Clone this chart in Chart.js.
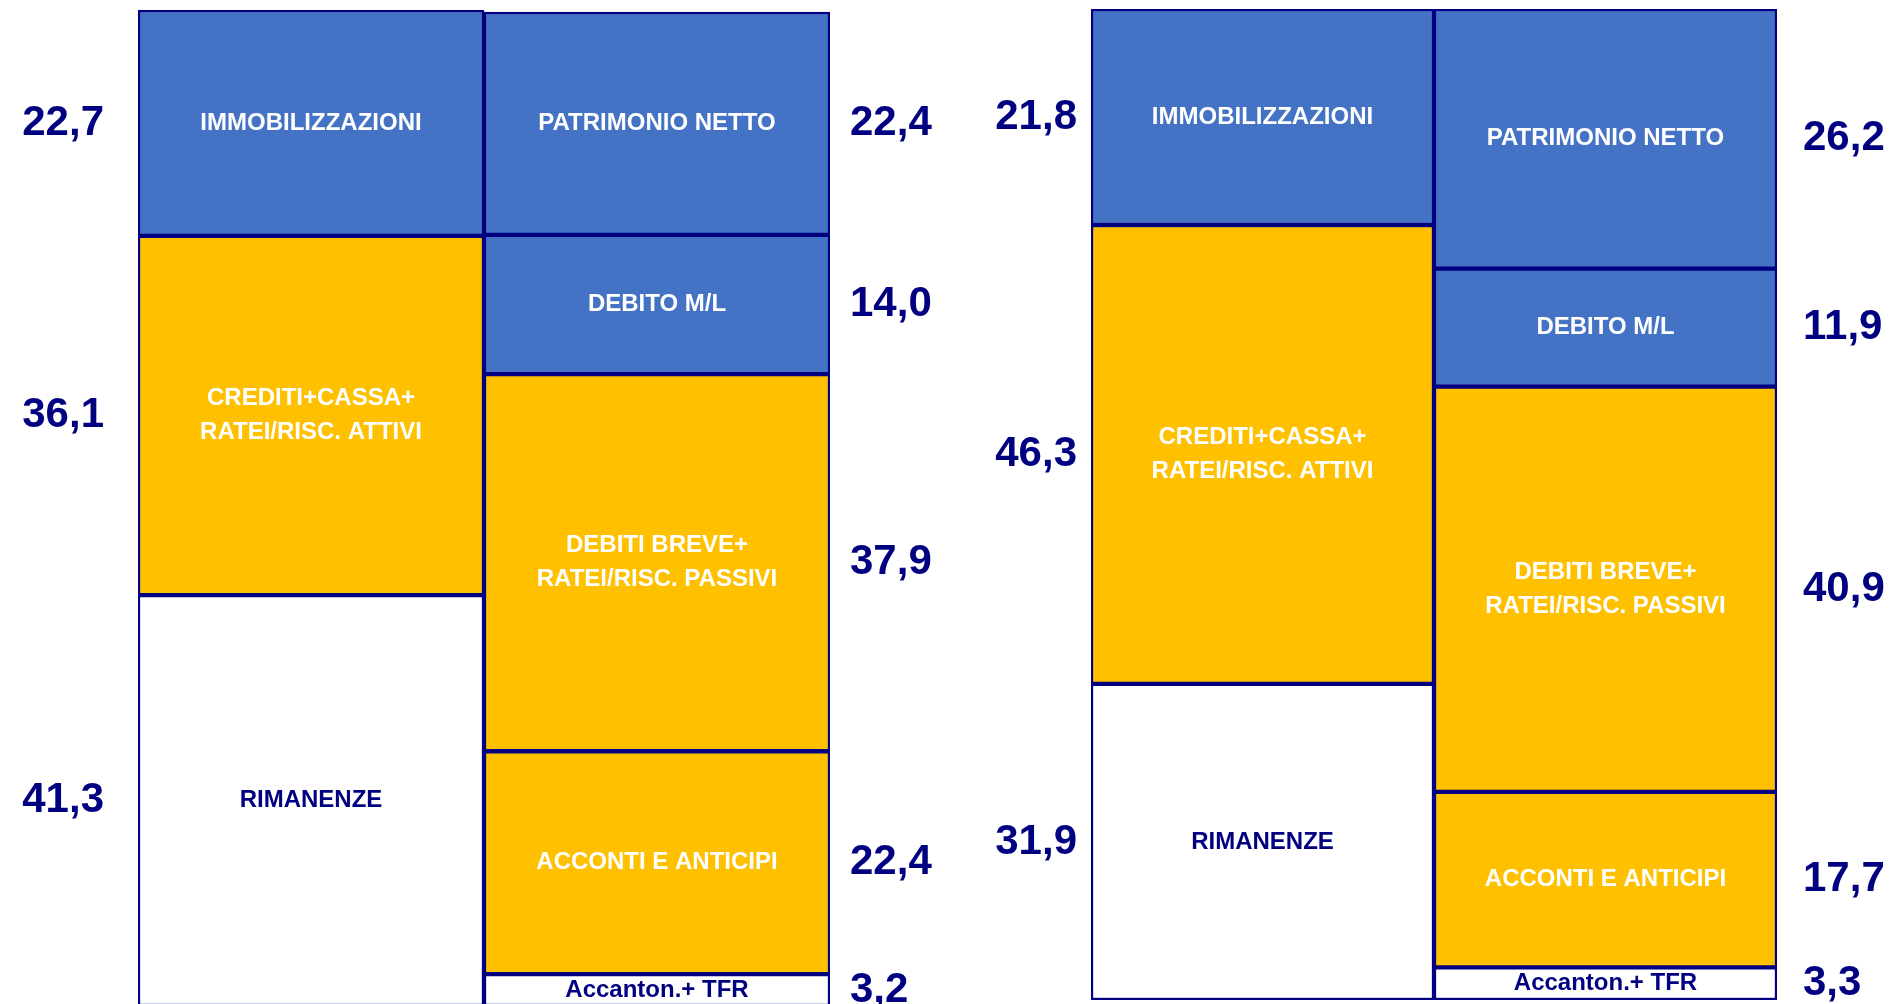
<!DOCTYPE html>
<html lang="it">
<head>
<meta charset="utf-8">
<title>Stato patrimoniale riclassificato</title>
<script src="https://cdn.jsdelivr.net/npm/chart.js@4.4.1/dist/chart.umd.min.js"></script>
<style>
  html, body { margin: 0; padding: 0; background: #fff; overflow: hidden; }
  body { width: 1894px; height: 1004px; position: relative; }
  canvas { position: absolute; top: 0; }
  #sp1 { left: 0; }
  #sp2 { left: 944px; }
</style>
</head>
<body>
<canvas id="sp1" width="944" height="1010"></canvas>
<canvas id="sp2" width="950" height="1004"></canvas>
<script>
    // =========================
    // Dati (valori % dall'alto verso il basso)
    // =========================

    const attivoVoci = ['IMMOBILIZZAZIONI', ['CREDITI+CASSA+', 'RATEI/RISC. ATTIVI'], 'RIMANENZE'];
    const passivoVoci = ['PATRIMONIO NETTO', 'DEBITO M/L', ['DEBITI BREVE+', 'RATEI/RISC. PASSIVI'], 'ACCONTI E ANTICIPI', 'Accanton.+ TFR'];

    const attivo1 = [22.7, 36.1, 41.3];
    const passivo1 = [22.4, 14.0, 37.9, 22.4, 3.2];

    const attivo2 = [21.8, 46.3, 31.9];
    const passivo2 = [26.2, 11.9, 40.9, 17.7, 3.3];

    const BLU = '#4472C4';
    const GIALLO = '#FFC000';
    const BIANCO = '#FFFFFF';
    const NAVY = '#000080';
    const FONT = "'Liberation Sans', Arial, sans-serif";

    const coloriAttivo = [BLU, GIALLO, BIANCO];
    const coloriPassivo = [BLU, BLU, GIALLO, GIALLO, BIANCO];

    const somma = arr => arr.reduce((a, b) => a + b, 0);

    // le barre impilate partono dal basso: si costruiscono in ordine inverso
    function creaDatasets(attivo, passivo) {
      const ds = [];
      for (let i = attivo.length - 1; i >= 0; i--) {
        ds.push({ voce: attivoVoci[i], data: [attivo[i], null], backgroundColor: coloriAttivo[i] });
      }
      for (let i = passivo.length - 1; i >= 0; i--) {
        ds.push({ voce: passivoVoci[i], data: [null, passivo[i]], backgroundColor: coloriPassivo[i] });
      }
      ds.forEach(d => {
        d.borderColor = NAVY;
        d.borderWidth = 2.5;
        d.borderSkipped = false;
        d.categoryPercentage = 1;
        d.barPercentage = 1;
      });
      return ds;
    }

    // testi dentro i rettangoli e valori ai lati
    const etichette = {
      id: 'etichette',
      afterDatasetsDraw(chart, args, opts) {
        const ctx = chart.ctx;
        chart.data.datasets.forEach((ds, i) => {
          const meta = chart.getDatasetMeta(i);
          meta.data.forEach((bar, j) => {
            const v = ds.data[j];
            if (v == null) return;
            const { x, y, base, width } = bar.getProps(['x', 'y', 'base', 'width'], true);
            const cy = (y + base) / 2;

            ctx.save();
            ctx.textBaseline = 'middle';
            ctx.textAlign = 'center';
            ctx.font = 'bold 24px ' + FONT;
            ctx.fillStyle = ds.backgroundColor === BIANCO ? NAVY : BIANCO;
            const righe = [].concat(ds.voce);
            righe.forEach((r, k) => {
              ctx.fillText(r, x, cy + (k - (righe.length - 1) / 2) * 34);
            });

            ctx.font = 'bold 42px ' + FONT;
            ctx.fillStyle = NAVY;
            const testo = v.toFixed(1).replace('.', ',');
            if (j === 0) {
              ctx.textAlign = 'right';
              ctx.fillText(testo, x - width / 2 - opts.distSinistra, cy);
            } else {
              ctx.textAlign = 'left';
              ctx.fillText(testo, x + width / 2 + opts.distDestra, cy);
            }
            ctx.restore();
          });
        });
      }
    };

    function creaGrafico(id, attivo, passivo, padding, opzTesti) {
      return new Chart(document.getElementById(id), {
        type: 'bar',
        data: {
          labels: ['Attivo', 'Passivo'],
          datasets: creaDatasets(attivo, passivo)
        },
        options: {
          responsive: false,
          animation: false,
          layout: { padding: padding },
          plugins: {
            legend: { display: false },
            tooltip: { enabled: false },
            etichette: opzTesti
          },
          scales: {
            x: { stacked: true, display: false },
            y: {
              stacked: true,
              display: false,
              min: 0,
              max: Math.max(somma(attivo), somma(passivo))
            }
          }
        },
        plugins: [etichette]
      });
    }

    creaGrafico('sp1', attivo1, passivo1,
      { left: 138, right: 114, top: 10, bottom: 4 },
      { distSinistra: 34, distDestra: 20 });

    creaGrafico('sp2', attivo2, passivo2,
      { left: 147, right: 117, top: 9, bottom: 4 },
      { distSinistra: 14, distDestra: 26 });
</script>
</body>
</html>
